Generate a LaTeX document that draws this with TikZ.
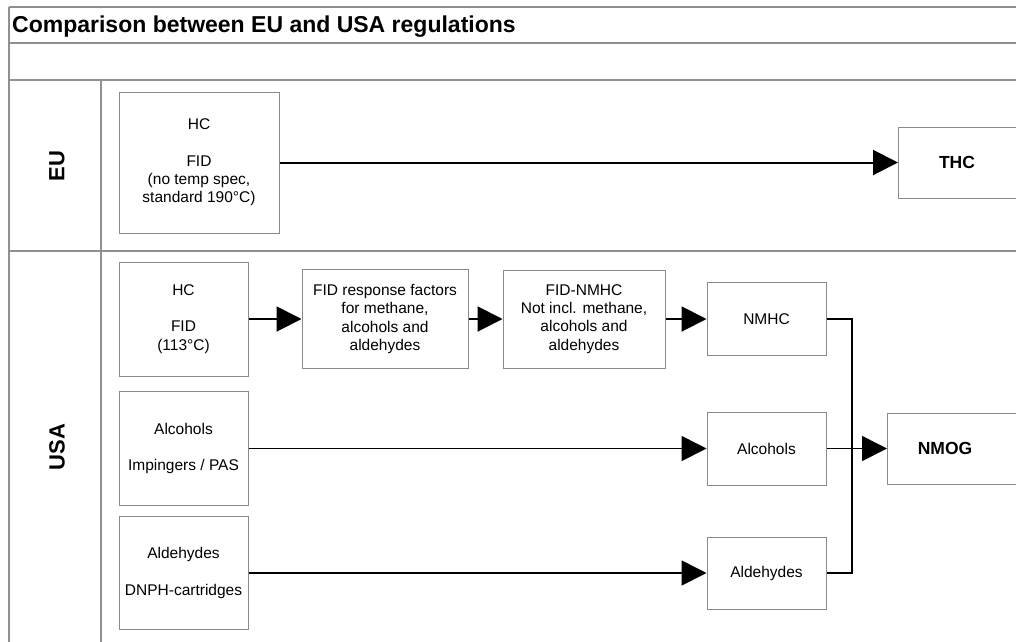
\documentclass[tikz,border=0pt]{standalone}
\usepackage{fontspec}
\setmainfont{Liberation Sans}
\usetikzlibrary{arrows.meta}
\definecolor{rule}{HTML}{909090}
\definecolor{boxline}{HTML}{8A8A8A}
\tikzset{
  frame/.style={draw=rule, line width=1.2pt},
  box/.style={draw=boxline, line width=1pt, rectangle, align=center, inner sep=0pt,
    font=\fontsize{15.5}{18.3}\selectfont},
  bigtxt/.style={inner sep=0pt, font=\fontsize{17.5}{20}\selectfont\bfseries},
  sidetxt/.style={inner sep=0pt, rotate=90, font=\fontsize{22}{24}\selectfont\bfseries},
  conn/.style={draw=black, line width=2pt},
  thin/.style={draw=black, line width=1.6pt},
  tip/.style={-{Triangle[length=25pt,width=25pt]}},
}
\begin{document}
\begin{tikzpicture}[x=1pt,y=-1pt]
\useasboundingbox (0,0) rectangle (1016,641);
\clip (0,0) rectangle (1016,641);
\fill[white] (0,0) rectangle (1016,641);
% frame
\draw[frame] (9,7) -- (1030,7);
\draw[frame] (9,43) -- (1030,43);
\draw[frame] (9,80) -- (1030,80);
\draw[frame] (9,251) -- (1030,251);
\draw[frame] (9,7) -- (9,660);
\draw[frame] (101,80) -- (101,660);
\node[anchor=base west, inner sep=0pt, font=\fontsize{23}{26}\selectfont\bfseries] (title) at (12,32) {Comparison between EU and USA regulations};
\node[sidetxt] (eu) at (57,166) {EU};
\node[sidetxt] (usa) at (57,447) {USA};
% EU
\node[box, minimum width=160pt, minimum height=141pt] (euhc) at (199,162.5) {HC\\[18.3pt]FID\\(no temp spec,\\standard 190°C)};
\node[box, minimum width=140pt, minimum height=71pt, anchor=west] (thc) at (898,162.5) {};
\node[bigtxt] (thct) at (957,162.5) {THC};
\draw[conn,tip] (euhc.east) -- (thc.west);
% USA
\node[box, minimum width=129pt, minimum height=114pt] (ushc) at (183.5,319) {HC\\[18.3pt]FID\\(113°C)};
\node[box, minimum width=166pt, minimum height=99pt] (resp) at (385,319) {FID response factors\\for methane,\\alcohols and\\aldehydes};
\node[box, minimum width=162pt, minimum height=98pt] (fidn) at (584,319) {FID-NMHC\\Not incl. methane,\\alcohols and\\aldehydes};
\node[box, minimum width=119pt, minimum height=73pt] (nmhc) at (766.5,319) {NMHC};
\node[box, minimum width=129pt, minimum height=114pt] (alcs) at (183.5,448.5) {Alcohols\\[18.3pt]Impingers / PAS};
\node[box, minimum width=119pt, minimum height=73pt] (alc) at (766.5,448.5) {Alcohols};
\node[box, minimum width=129pt, minimum height=113pt] (alds) at (183.5,573) {Aldehydes\\[18.3pt]DNPH-cartridges};
\node[box, minimum width=119pt, minimum height=72pt] (ald) at (766.5,573) {Aldehydes};
\node[box, minimum width=150pt, minimum height=71pt, anchor=west] (nmog) at (887,448.5) {};
\node[bigtxt] (nmogt) at (945,448.5) {NMOG};
\coordinate (bt) at (852,319);
\coordinate (bb) at (852,573);
\draw[conn,tip] (ushc.east) -- (resp.west);
\draw[conn,tip] (resp.east) -- (fidn.west);
\draw[conn,tip] (fidn.east) -- (nmhc.west);
\draw[thin,tip] (alcs.east) -- (alc.west);
\draw[thin,tip] (alds.east) -- (ald.west);
\draw[thin, line join=miter] (nmhc.east) -- (bt) -- (bb) -- (ald.east);
\draw[thin,tip] (alc.east) -- (nmog.west);
\end{tikzpicture}
\end{document}
